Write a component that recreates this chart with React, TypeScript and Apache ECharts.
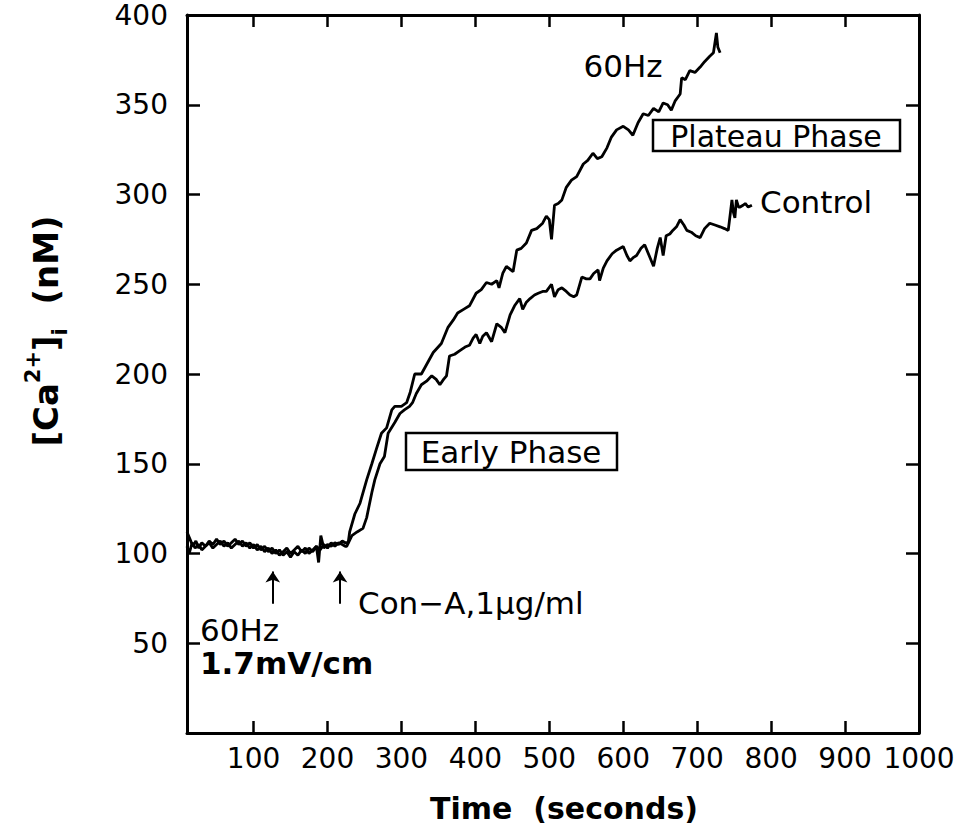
import React, { useEffect, useRef } from "react";
import * as echarts from "echarts";

// [time (s), [Ca2+]i (nM)]
const hz60Data: [number, number][] = [
  [10, 112], [14, 108], [18, 104], [22, 107], [26, 103], [30, 106], [35, 104], [40, 107], [45, 105], [50, 108],
  [55, 105], [60, 107], [65, 104], [70, 106], [75, 108], [80, 105], [85, 107], [90, 104], [95, 106], [100, 103],
  [105, 105], [110, 102], [115, 104], [120, 101], [125, 103], [130, 100], [135, 102], [140, 99], [145, 101], [150, 98],
  [155, 101], [160, 99], [165, 102], [170, 100], [175, 103], [180, 101], [185, 104], [188, 95], [191, 110], [195, 103],
  [200, 105], [205, 104], [210, 106], [215, 105], [220, 107], [224, 106], [228, 106], [230, 112], [237, 122], [244, 128],
  [253, 141], [260, 150], [266, 158], [273, 167], [280, 170], [287, 180], [291, 182], [300, 182], [307, 184], [312, 190],
  [318, 200], [327, 200], [335, 206], [343, 212], [354, 217], [363, 226], [370, 230], [376, 234], [384, 236], [392, 238],
  [401, 245], [408, 247], [415, 251], [422, 250], [429, 252], [432, 248], [437, 256], [442, 260], [451, 257], [456, 269],
  [462, 270], [469, 273], [476, 280], [483, 281], [491, 284], [496, 288], [500, 286], [503, 275], [507, 294], [512, 295],
  [517, 297], [523, 304], [530, 308], [537, 310], [546, 317], [552, 319], [559, 323], [565, 320], [571, 321], [578, 326],
  [584, 332], [591, 336], [600, 338], [607, 336], [613, 333], [620, 340], [627, 345], [634, 344], [641, 348], [648, 346],
  [654, 351], [660, 350], [665, 347], [670, 352], [677, 356], [679, 365], [684, 364], [690, 369], [697, 368], [704, 371],
  [710, 374], [717, 377], [722, 379], [726, 390], [728, 382], [731, 379],
];

const controlData: [number, number][] = [
  [10, 104], [13, 100], [17, 106], [21, 103], [26, 105], [30, 102], [35, 104], [40, 106], [45, 103], [50, 105],
  [55, 107], [60, 104], [65, 106], [70, 103], [75, 105], [80, 107], [85, 104], [90, 106], [95, 103], [100, 105],
  [105, 102], [110, 104], [115, 101], [120, 103], [125, 100], [130, 102], [135, 99], [140, 101], [145, 103], [150, 100],
  [155, 102], [160, 104], [165, 101], [170, 103], [175, 100], [180, 102], [185, 104], [190, 102], [195, 105], [200, 103],
  [205, 106], [210, 104], [215, 106], [220, 105], [224, 104], [226, 104], [233, 110], [240, 112], [248, 114], [253, 120],
  [260, 134], [264, 141], [271, 150], [277, 154], [282, 167], [291, 173], [298, 178], [304, 180], [311, 182], [315, 184],
  [320, 189], [327, 194], [334, 196], [341, 199], [347, 197], [352, 194], [357, 197], [361, 199], [365, 210], [372, 211],
  [379, 213], [386, 215], [392, 216], [397, 220], [401, 222], [406, 217], [410, 221], [415, 223], [422, 218], [429, 228],
  [435, 226], [440, 223], [447, 233], [453, 238], [460, 242], [464, 236], [469, 240], [474, 242], [480, 244], [485, 245],
  [491, 246], [496, 246], [503, 250], [507, 243], [512, 247], [517, 248], [523, 246], [528, 244], [533, 243], [537, 244],
  [544, 254], [550, 253], [555, 253], [560, 256], [566, 258], [568, 252], [573, 259], [578, 263], [585, 267], [591, 269],
  [600, 271], [605, 266], [609, 263], [614, 265], [618, 266], [624, 270], [629, 272], [635, 266], [641, 260], [646, 270],
  [650, 276], [654, 266], [658, 277], [663, 278], [667, 280], [672, 282], [677, 286], [682, 283], [686, 280], [692, 279],
  [698, 277], [704, 276], [710, 281], [717, 284], [724, 283], [731, 282], [737, 281], [742, 280], [745, 290], [747, 297],
  [749, 290], [751, 287], [753, 297], [756, 293], [758, 293], [762, 294], [765, 295], [769, 293], [774, 294],
];

const xTickValues = [100, 200, 300, 400, 500, 600, 700, 800, 900, 1000];
const arrowTimes = [126, 217];
const arrowFrom = 72;
const arrowTo = 90;

const FONT = "DejaVu Sans";

export default function App() {
  const ref = useRef<HTMLDivElement>(null);

  useEffect(() => {
    if (!ref.current) return;
    const chart = echarts.init(ref.current, undefined, { renderer: "svg" });

    const axisLineStyle = { color: "#000", width: 3 };
    const tickStyle = { color: "#000", width: 2.5 };

    const option: any = {
      animation: false,
      backgroundColor: "#fff",
      grid: { left: 187, right: 42, top: 15, bottom: 101, containLabel: false, outerBoundsMode: "none" },
      xAxis: [
        {
          type: "value",
          min: 10,
          max: 1000,
          position: "bottom",
          axisLine: { show: true, onZero: false, lineStyle: axisLineStyle },
          axisTick: { show: true, inside: true, length: 12, lineStyle: tickStyle, customValues: xTickValues },
          axisLabel: {
            show: true,
            customValues: xTickValues,
            margin: 11,
            color: "#000",
            fontSize: 28,
            fontFamily: FONT,
            formatter: (v: number) => String(v),
          },
          splitLine: { show: false },
        },
        {
          type: "value",
          min: 10,
          max: 1000,
          position: "top",
          axisLine: { show: true, onZero: false, lineStyle: axisLineStyle },
          axisTick: { show: true, inside: true, length: 12, lineStyle: tickStyle, customValues: xTickValues },
          axisLabel: { show: false },
          splitLine: { show: false },
        },
      ],
      yAxis: [
        {
          type: "value",
          min: 0,
          max: 400,
          interval: 50,
          position: "left",
          axisLine: { show: true, onZero: false, lineStyle: axisLineStyle },
          axisTick: { show: true, inside: true, length: 13, lineStyle: tickStyle },
          axisLabel: {
            show: true,
            margin: 19,
            color: "#000",
            fontSize: 28,
            fontFamily: FONT,
            formatter: (v: number) => (v === 0 ? "" : String(v)),
          },
          splitLine: { show: false },
        },
        {
          type: "value",
          min: 0,
          max: 400,
          interval: 50,
          position: "right",
          axisLine: { show: true, onZero: false, lineStyle: axisLineStyle },
          axisTick: { show: true, inside: true, length: 13, lineStyle: tickStyle },
          axisLabel: { show: false },
          splitLine: { show: false },
        },
      ],
      series: [
        {
          name: "60Hz",
          type: "line",
          data: hz60Data,
          showSymbol: false,
          symbol: "none",
          lineStyle: { color: "#000", width: 2.8 },
          markLine: {
            silent: true,
            symbol: ["none", "arrow"],
            symbolSize: 11,
            label: { show: false },
            lineStyle: { color: "#000", width: 2, type: "solid" },
            data: arrowTimes.map((t) => [
              { coord: [t, arrowFrom] },
              { coord: [t, arrowTo] },
            ]),
          },
        },
        {
          name: "Control",
          type: "line",
          data: controlData,
          showSymbol: false,
          symbol: "none",
          lineStyle: { color: "#000", width: 2.8 },
        },
      ],
      graphic: [
        {
          type: "text",
          x: 46,
          y: 331,
          rotation: Math.PI / 2,
          style: {
            text: "{a|[Ca}{s|2+}{a|]}{i|i}{a|  (nM)}",
            align: "center",
            verticalAlign: "middle",
            fill: "#000",
            rich: {
              a: { fontSize: 34, fontWeight: "bold", fontFamily: FONT, lineHeight: 48, fill: "#000" },
              s: { fontSize: 21, fontWeight: "bold", fontFamily: FONT, lineHeight: 21, verticalAlign: "top", fill: "#000" },
              i: { fontSize: 21, fontWeight: "bold", fontFamily: FONT, lineHeight: 21, verticalAlign: "bottom", fill: "#000" },
            },
          },
        },
        {
          type: "text",
          x: 564,
          y: 808,
          style: {
            text: "Time  (seconds)",
            align: "center",
            verticalAlign: "middle",
            fontSize: 30,
            fontWeight: "bold",
            fontFamily: FONT,
            fill: "#000",
          },
        },
        {
          type: "text",
          x: 623,
          y: 66,
          style: { text: "60Hz", align: "center", verticalAlign: "middle", fontSize: 31, fontFamily: FONT, fill: "#000" },
        },
        {
          type: "rect",
          shape: { x: 653, y: 120, width: 247, height: 31 },
          style: { fill: "none", stroke: "#000", lineWidth: 2.5 },
        },
        {
          type: "text",
          x: 776,
          y: 136,
          style: { text: "Plateau Phase", align: "center", verticalAlign: "middle", fontSize: 30, fontFamily: FONT, fill: "#000" },
        },
        {
          type: "rect",
          shape: { x: 406, y: 433, width: 211, height: 37 },
          style: { fill: "none", stroke: "#000", lineWidth: 2.5 },
        },
        {
          type: "text",
          x: 511,
          y: 452,
          style: { text: "Early Phase", align: "center", verticalAlign: "middle", fontSize: 31, fontFamily: FONT, fill: "#000" },
        },
        {
          type: "text",
          x: 760,
          y: 202,
          style: { text: "Control", align: "left", verticalAlign: "middle", fontSize: 31, fontFamily: FONT, fill: "#000" },
        },
        {
          type: "text",
          x: 358,
          y: 603,
          style: { text: "Con\u2212A,1\u03bcg/ml", align: "left", verticalAlign: "middle", fontSize: 31, fontFamily: FONT, fill: "#000" },
        },
        {
          type: "text",
          x: 200,
          y: 630,
          style: { text: "60Hz", align: "left", verticalAlign: "middle", fontSize: 31, fontFamily: FONT, fill: "#000" },
        },
        {
          type: "text",
          x: 200,
          y: 663,
          style: { text: "1.7mV/cm", align: "left", verticalAlign: "middle", fontSize: 31, fontWeight: "bold", fontFamily: FONT, fill: "#000" },
        },
      ],
    };

    chart.setOption(option);
    return () => chart.dispose();
  }, []);

  return (
    <div
      ref={ref}
      style={{ position: "absolute", left: 0, top: 0, width: 961, height: 834, background: "#fff" }}
    />
  );
}
